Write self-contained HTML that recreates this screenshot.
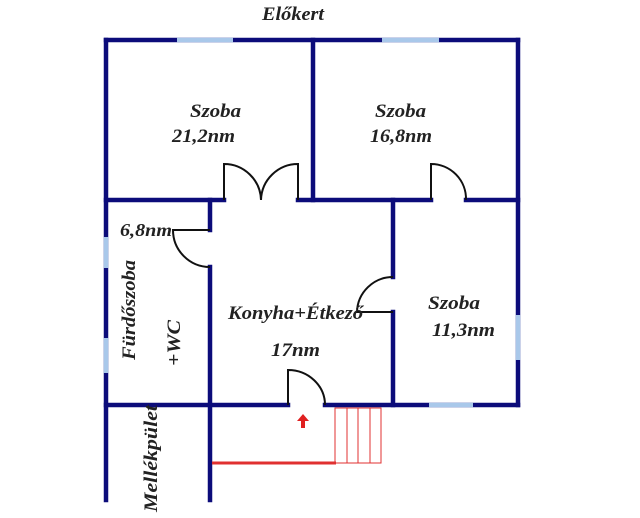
<!DOCTYPE html>
<html><head><meta charset="utf-8"><style>
html,body{margin:0;padding:0;background:#fff;}
svg{display:block;}
text{font-family:"Liberation Serif",serif;font-weight:bold;font-style:italic;fill:#222;}
</style></head><body>
<svg width="640" height="518" viewBox="0 0 640 518" xmlns="http://www.w3.org/2000/svg">
<g stroke="#0c0c7a" stroke-width="4.5" fill="none" stroke-linecap="square">
  <line x1="106" y1="40" x2="518" y2="40"/>
  <line x1="106" y1="40" x2="106" y2="500"/>
  <line x1="518" y1="40" x2="518" y2="405"/>
  <line x1="106" y1="405" x2="288" y2="405"/>
  <line x1="325" y1="405" x2="518" y2="405"/>
  <line x1="313" y1="40" x2="313" y2="200"/>
  <line x1="106" y1="200" x2="224" y2="200"/>
  <line x1="298" y1="200" x2="431" y2="200"/>
  <line x1="466" y1="200" x2="518" y2="200"/>
  <line x1="210" y1="200" x2="210" y2="230"/>
  <line x1="210" y1="267" x2="210" y2="500"/>
  <line x1="393" y1="200" x2="393" y2="277"/>
  <line x1="393" y1="312" x2="393" y2="405"/>
</g>
<g stroke="#a9c8ea" stroke-width="4.5">
  <line x1="177" y1="40" x2="233" y2="40"/>
  <line x1="382" y1="40" x2="439" y2="40"/>
  <line x1="106" y1="237" x2="106" y2="268"/>
  <line x1="106" y1="338" x2="106" y2="373"/>
  <line x1="518" y1="315" x2="518" y2="360"/>
  <line x1="429" y1="405" x2="473" y2="405"/>
</g>
<g stroke="#111" stroke-width="2" fill="none">
  <path d="M224 200 V164 A37 37 0 0 1 261 200"/>
  <path d="M298 200 V164 A37 37 0 0 0 261 200"/>
  <path d="M431 200 V164 A35 35 0 0 1 466 200"/>
  <path d="M210 230 H173 A37 37 0 0 0 210 267"/>
  <path d="M393 312 H357 A36 36 0 0 1 393 277"/>
  <path d="M288 405 V370 A37 35 0 0 1 325 405"/>
</g>
<g stroke="#e03030" fill="none">
  <line x1="212" y1="463" x2="336" y2="463" stroke-width="3"/>
  <rect x="335" y="408" width="46" height="55" stroke-width="1"/>
  <line x1="347" y1="408" x2="347" y2="463" stroke-width="1"/>
  <line x1="358" y1="408" x2="358" y2="463" stroke-width="1"/>
  <line x1="370" y1="408" x2="370" y2="463" stroke-width="1"/>
</g>
<path d="M303 414 L309 421 H305 V428 H301 V421 H297 Z" fill="#e02020"/>
<g font-size="19" lengthAdjust="spacingAndGlyphs">
<text x="262" y="20" textLength="62" lengthAdjust="spacingAndGlyphs">Előkert</text>
<text x="190" y="117" textLength="51" lengthAdjust="spacingAndGlyphs">Szoba</text>
<text x="172" y="142" textLength="63" lengthAdjust="spacingAndGlyphs">21,2nm</text>
<text x="375" y="117" textLength="51" lengthAdjust="spacingAndGlyphs">Szoba</text>
<text x="370" y="142" textLength="62" lengthAdjust="spacingAndGlyphs">16,8nm</text>
<text x="428" y="309" textLength="52" lengthAdjust="spacingAndGlyphs">Szoba</text>
<text x="432" y="336" textLength="63" lengthAdjust="spacingAndGlyphs">11,3nm</text>
<text x="228" y="319" textLength="135" lengthAdjust="spacingAndGlyphs">Konyha+Étkező</text>
<text x="271" y="356" textLength="49" lengthAdjust="spacingAndGlyphs">17nm</text>
<text x="120" y="236" textLength="52" lengthAdjust="spacingAndGlyphs" font-size="18">6,8nm</text>
<text transform="translate(135,360) rotate(-90)" textLength="100" lengthAdjust="spacingAndGlyphs">Fürdőszoba</text>
<text transform="translate(180,366) rotate(-90)" textLength="46" lengthAdjust="spacingAndGlyphs">+WC</text>
<text transform="translate(157,512) rotate(-90)" textLength="107" lengthAdjust="spacingAndGlyphs">Mellékpület</text>
</g>
</svg>
</body></html>
